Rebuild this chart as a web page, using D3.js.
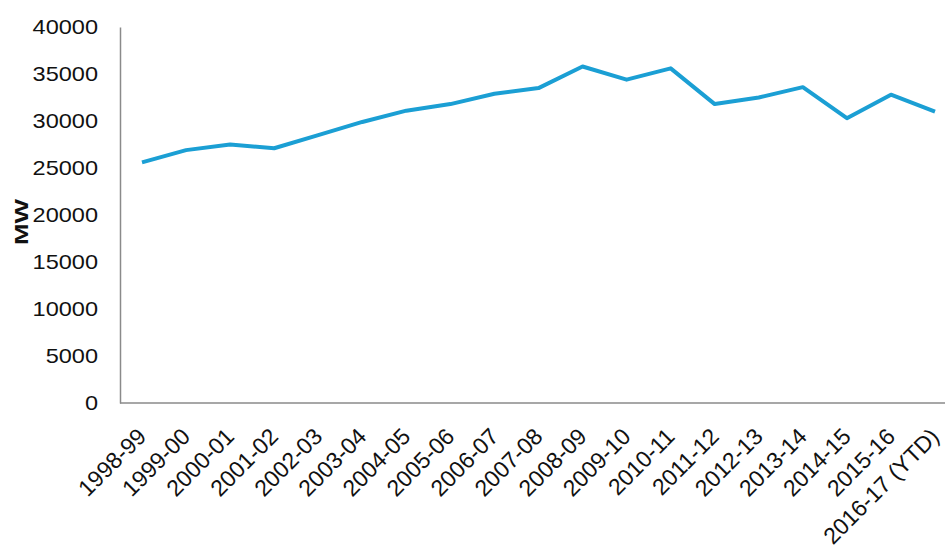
<!DOCTYPE html>
<html>
<head>
<meta charset="utf-8">
<script src="https://cdn.jsdelivr.net/npm/d3@7"></script>
<style>
  html, body { margin: 0; padding: 0; background: #ffffff; }
  svg { display: block; }
  text { font-family: "Liberation Sans", Arial, sans-serif; fill: #111; }
</style>
</head>
<body>
<svg id="chart" width="945" height="558"></svg>
<script>
const categories = ["1998-99","1999-00","2000-01","2001-02","2002-03","2003-04","2004-05","2005-06","2006-07","2007-08","2008-09","2009-10","2010-11","2011-12","2012-13","2013-14","2014-15","2015-16","2016-17 (YTD)"];
const values = [25600, 26900, 27500, 27100, 28500, 29900, 31100, 31800, 32900, 33500, 35800, 34400, 35600, 31800, 32500, 33600, 30300, 32800, 31000];
const yTicks = [0, 5000, 10000, 15000, 20000, 25000, 30000, 35000, 40000];
const yLabel = "MW";

const svg = d3.select("#chart");
const mLeft = 120, mRight = 945, mTop = 27, mBottom = 403;

const x = d3.scalePoint().domain(categories).range([142, 935]);
const y = d3.scaleLinear().domain([0, 40000]).range([mBottom, mTop]);

// Y axis
const yAxis = d3.axisLeft(y).tickValues(yTicks).tickSize(0).tickPadding(22).tickFormat(d3.format("d"));
const gy = svg.append("g").attr("transform", `translate(${mLeft},0)`).call(yAxis);
gy.select(".domain").attr("stroke", "#8a8a8a").attr("stroke-width", 1.5);
gy.selectAll("text").attr("font-size", 21).attr("fill", "#111")
  .style("font-family", '"Liberation Sans", Arial, sans-serif')
  .each(function() {
    const len = this.getComputedTextLength();
    d3.select(this).attr("textLength", len * 1.12).attr("lengthAdjust", "spacingAndGlyphs");
  });

// X axis
const xAxis = d3.axisBottom(x).tickSize(0).tickPadding(0);
const gx = svg.append("g").attr("transform", `translate(0,${mBottom})`).call(xAxis);
gx.select(".domain").remove();
svg.append("line").attr("x1", mLeft).attr("x2", mRight).attr("y1", mBottom).attr("y2", mBottom)
  .attr("stroke", "#8a8a8a").attr("stroke-width", 1.5);
gx.selectAll(".tick text")
  .attr("font-size", 23).attr("fill", "#111")
  .style("font-family", '"Liberation Sans", Arial, sans-serif')
  .attr("text-anchor", "end")
  .attr("dy", 0).attr("y", 0)
  .attr("transform", "translate(5,35) rotate(-45)");

// Y label
svg.append("text")
  .attr("transform", `translate(28,222) rotate(-90)`)
  .attr("text-anchor", "middle")
  .attr("font-size", 18).attr("font-weight", "bold")
  .attr("textLength", 46).attr("lengthAdjust", "spacingAndGlyphs")
  .text(yLabel);

// Line
const line = d3.line().x((d, i) => x(categories[i])).y(d => y(d));
svg.append("path").datum(values)
  .attr("fill", "none").attr("stroke", "#1b9fd4").attr("stroke-width", 4)
  .attr("stroke-linejoin", "round").attr("stroke-linecap", "butt")
  .attr("d", line);
</script>
</body>
</html>
